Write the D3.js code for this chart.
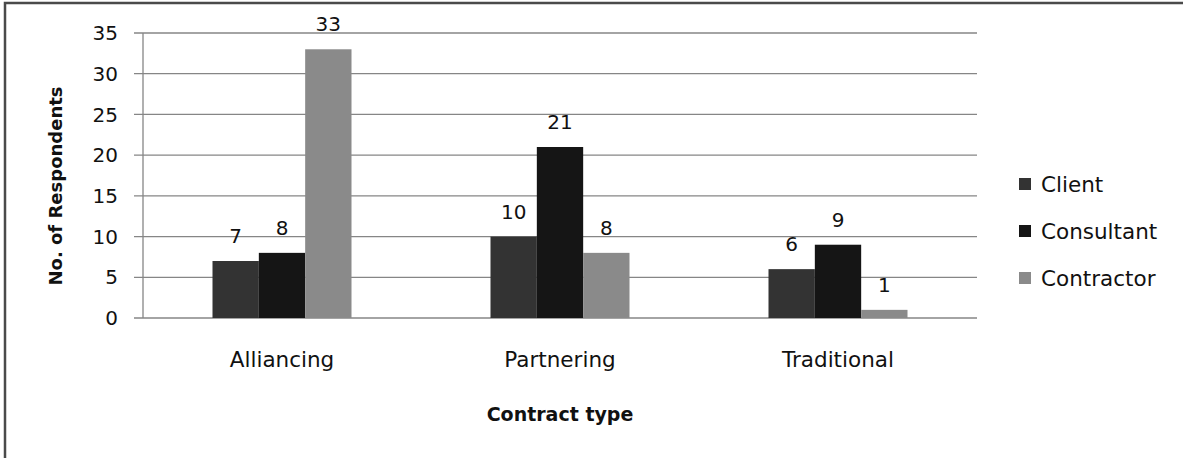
<!DOCTYPE html>
<html>
<head>
<meta charset="utf-8">
<script src="https://cdn.jsdelivr.net/npm/d3@7"></script>
<style>
  body { margin: 0; background: #fff; }
  text { font-family: "DejaVu Sans", sans-serif; fill: #111; }
</style>
</head>
<body>
<div id="root"></div>
<script>
const svgWidth = 1183;
const svgHeight = 458;

// data
const categories = ["Alliancing", "Partnering", "Traditional"];
const seriesNames = ["Client", "Consultant", "Contractor"];
const client = [7, 10, 6];
const consultant = [8, 21, 9];
const contractor = [33, 8, 1];
const yTicks = [0, 5, 10, 15, 20, 25, 30, 35];

const colors = ["#333333", "#151515", "#8a8a8a"];
const seriesValues = [client, consultant, contractor];

const plot = { left: 143, right: 977, top: 33, bottom: 318 };

const svg = d3.select("#root")
  .append("svg")
  .attr("width", svgWidth)
  .attr("height", svgHeight);

// outer frame (only top/left visible in the picture)
svg.append("rect")
  .attr("x", 5).attr("y", 3)
  .attr("width", 1300).attr("height", 600)
  .attr("fill", "none")
  .attr("stroke", "#4a4a4a")
  .attr("stroke-width", 2.5);

const xScale = d3.scaleBand()
  .domain(categories)
  .range([plot.left, plot.right]);

// bars fill half of each category band
const xInner = d3.scaleBand()
  .domain(seriesNames)
  .range([0, xScale.bandwidth()])
  .paddingOuter(1.5)
  .paddingInner(0);

const yScale = d3.scaleLinear()
  .domain([0, 35])
  .range([plot.bottom, plot.top]);

//Gridlines
svg.append("g")
  .selectAll("line")
  .data(yTicks)
  .join("line")
  .attr("x1", plot.left - 9)
  .attr("x2", plot.right)
  .attr("y1", d => yScale(d))
  .attr("y2", d => yScale(d))
  .attr("stroke", "#868686")
  .attr("stroke-width", 1.3);

// y axis line
svg.append("line")
  .attr("x1", plot.left).attr("x2", plot.left)
  .attr("y1", plot.top).attr("y2", plot.bottom)
  .attr("stroke", "#868686")
  .attr("stroke-width", 1.3);

// y tick labels
svg.append("g")
  .selectAll("text")
  .data(yTicks)
  .join("text")
  .attr("x", 118)
  .attr("y", d => yScale(d))
  .attr("dy", "0.36em")
  .attr("text-anchor", "end")
  .attr("font-size", "20px")
  .text(d => d);

//Bars
const groups = svg.append("g")
  .selectAll("g")
  .data(seriesNames)
  .join("g")
  .attr("fill", (d, i) => colors[i]);

groups.selectAll("rect")
  .data((s, si) => categories.map((c, ci) => ({ s, c, v: seriesValues[si][ci] })))
  .join("rect")
  .attr("x", d => xScale(d.c) + xInner(d.s))
  .attr("y", d => yScale(d.v))
  .attr("width", xInner.bandwidth())
  .attr("height", d => plot.bottom - yScale(d.v));

// value labels
groups.selectAll("text")
  .data((s, si) => categories.map((c, ci) => ({ s, c, v: seriesValues[si][ci] })))
  .join("text")
  .attr("x", d => xScale(d.c) + xInner(d.s) + xInner.bandwidth() / 2)
  .attr("y", d => yScale(d.v) - 18)
  .attr("text-anchor", "middle")
  .attr("font-size", "20px")
  .style("fill", "#111")
  .text(d => d.v);

// category labels
svg.append("g")
  .selectAll("text")
  .data(categories)
  .join("text")
  .attr("x", d => xScale(d) + xScale.bandwidth() / 2)
  .attr("y", 367)
  .attr("text-anchor", "middle")
  .attr("font-size", "21.5px")
  .text(d => d);

// axis titles
svg.append("text")
  .attr("x", 560)
  .attr("y", 421)
  .attr("text-anchor", "middle")
  .attr("font-size", "19px")
  .attr("font-weight", "bold")
  .text("Contract type");

svg.append("text")
  .attr("transform", "translate(62,186) rotate(-90)")
  .attr("text-anchor", "middle")
  .attr("font-size", "18px")
  .attr("font-weight", "bold")
  .text("No. of Respondents");

//Legend
const legend = svg.append("g")
  .selectAll("g")
  .data(seriesNames)
  .join("g")
  .attr("transform", (d, i) => `translate(1019, ${184 + i * 47})`);

legend.append("rect")
  .attr("x", 0).attr("y", -6)
  .attr("width", 12).attr("height", 12)
  .attr("fill", (d, i) => colors[i]);

legend.append("text")
  .attr("x", 22)
  .attr("y", 0)
  .attr("dy", "0.36em")
  .attr("font-size", "21.5px")
  .text(d => d);
</script>
</body>
</html>
